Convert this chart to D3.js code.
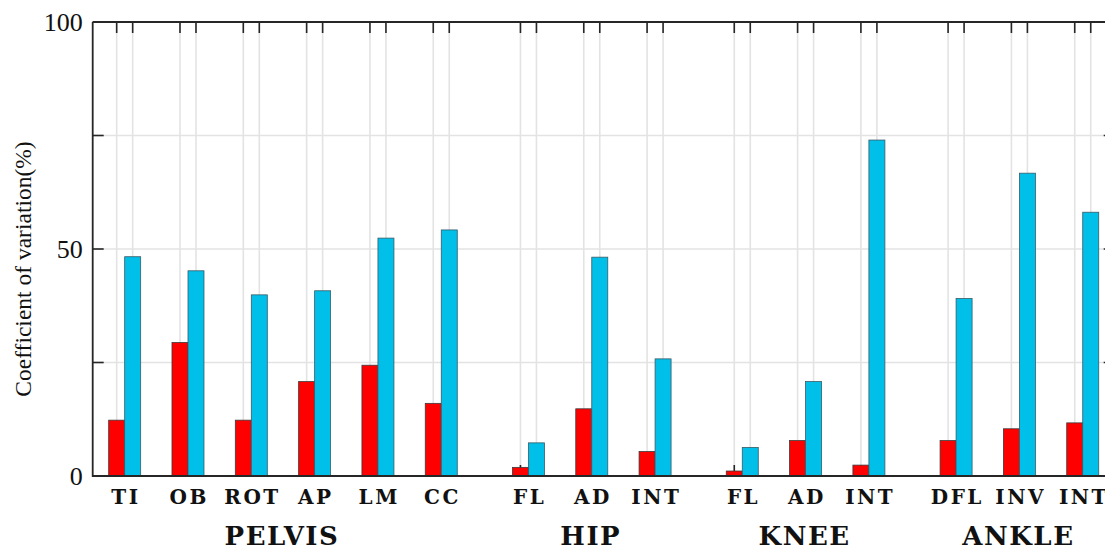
<!DOCTYPE html>
<html>
<head>
<meta charset="utf-8">
<script src="https://cdn.jsdelivr.net/npm/d3@7"></script>
<style>
  html, body { margin: 0; padding: 0; background: #fff; overflow: hidden; }
  svg { display: block; }
  .rm { font-family: "Liberation Serif", "Times New Roman", Times, "DejaVu Serif", serif; }
  .bf { font-family: "DejaVu Serif", serif; font-weight: bold; }
</style>
</head>
<body>
<svg id="chart" width="1105" height="550"></svg>
<script>
// ---- data ----
const groups = ["PELVIS", "HIP", "KNEE", "ANKLE"];
const categories = ["TI", "OB", "ROT", "AP", "LM", "CC", "FL", "AD", "INT", "FL", "AD", "INT", "DFL", "INV", "INT"];
const categoryGroup = ["PELVIS", "PELVIS", "PELVIS", "PELVIS", "PELVIS", "PELVIS", "HIP", "HIP", "HIP", "KNEE", "KNEE", "KNEE", "ANKLE", "ANKLE", "ANKLE"];
const redValues = [12.3, 29.4, 12.3, 20.8, 24.4, 16.0, 1.9, 14.8, 5.4, 1.1, 7.8, 2.4, 7.8, 10.4, 11.7];
const blueValues = [48.3, 45.2, 39.9, 40.8, 52.4, 54.2, 7.3, 48.2, 25.8, 6.3, 20.8, 74.0, 39.1, 66.7, 58.1];
const yTicks = [0, 25, 50, 75, 100];
const yTickLabels = ["0", "", "50", "", "100"];
const yLabel = "Coefficient of variation(%)";

// ---- layout ----
const groupGap = 0.377;      // extra spacing between groups (in category units)
const barW = 0.2527;         // bar width in category units
const pos = categories.map((c, i) => i + groups.indexOf(categoryGroup[i]) * groupGap);
const sideMargin = 0.505;

const pLeft = 92.7, pRight = 1114.7, pTop = 22, pBottom = 476;
const x = d3.scaleLinear().domain([d3.min(pos) - sideMargin, d3.max(pos) + sideMargin]).range([pLeft, pRight]);
const y = d3.scaleLinear().domain([0, 100]).range([pBottom, pTop]);

const svg = d3.select("#chart");
const axisColor = "#262626";
const gridColor = "#e3e3e3";
const redColor = "#ff0000";
const blueColor = "#00bfe9";

// bar centers (tick/grid positions)
const tickX = [];
pos.forEach(p => { tickX.push(p - barW / 2); tickX.push(p + barW / 2); });

// grid
const grid = svg.append("g");
grid.selectAll("line.v").data(tickX).join("line")
  .attr("x1", d => x(d)).attr("x2", d => x(d))
  .attr("y1", pTop).attr("y2", pBottom)
  .attr("stroke", gridColor).attr("stroke-width", 1.6);
grid.selectAll("line.h").data(yTicks.filter(t => t > 0 && t < 100)).join("line")
  .attr("x1", pLeft).attr("x2", pRight)
  .attr("y1", d => y(d)).attr("y2", d => y(d))
  .attr("stroke", gridColor).attr("stroke-width", 1.6);

// ticks (drawn below bars)
const ax = svg.append("g");
const tickLen = 11;
ax.selectAll("line.bt").data(tickX).join("line")
  .attr("x1", d => x(d)).attr("x2", d => x(d))
  .attr("y1", pBottom).attr("y2", pBottom - tickLen)
  .attr("stroke", axisColor).attr("stroke-width", 1.6);
ax.selectAll("line.tt").data(tickX).join("line")
  .attr("x1", d => x(d)).attr("x2", d => x(d))
  .attr("y1", pTop).attr("y2", pTop + tickLen)
  .attr("stroke", axisColor).attr("stroke-width", 1.6);
ax.selectAll("line.lt").data(yTicks).join("line")
  .attr("x1", pLeft).attr("x2", pLeft + tickLen)
  .attr("y1", d => y(d)).attr("y2", d => y(d))
  .attr("stroke", axisColor).attr("stroke-width", 1.6);
ax.selectAll("line.rt").data(yTicks).join("line")
  .attr("x1", pRight).attr("x2", pRight - tickLen)
  .attr("y1", d => y(d)).attr("y2", d => y(d))
  .attr("stroke", axisColor).attr("stroke-width", 1.6);

// bars
const bars = svg.append("g");
bars.selectAll("rect.red").data(redValues).join("rect")
  .attr("x", (d, i) => x(pos[i] - barW))
  .attr("width", (d, i) => x(pos[i]) - x(pos[i] - barW))
  .attr("y", d => y(d))
  .attr("height", d => y(0) - y(d))
  .attr("fill", redColor).attr("stroke", "#3a3a3a").attr("stroke-width", 0.8);
bars.selectAll("rect.blue").data(blueValues).join("rect")
  .attr("x", (d, i) => x(pos[i]))
  .attr("width", (d, i) => x(pos[i] + barW) - x(pos[i]))
  .attr("y", d => y(d))
  .attr("height", d => y(0) - y(d))
  .attr("fill", blueColor).attr("stroke", "#3a5a66").attr("stroke-width", 0.8);

// box lines
svg.append("path")
  .attr("d", `M${pLeft},${pTop} L${pLeft},${pBottom} L${pRight},${pBottom} M${pLeft},${pTop} L${pRight},${pTop} L${pRight},${pBottom}`)
  .attr("fill", "none").attr("stroke", axisColor).attr("stroke-width", 1.8);

// y tick labels
svg.append("g").selectAll("text").data(yTicks).join("text")
  .attr("class", "rm")
  .attr("x", pLeft - 10).attr("y", d => y(d) + 8.5)
  .attr("text-anchor", "end")
  .attr("font-size", 26).attr("fill", "#111")
  .text((d, i) => yTickLabels[i]);

// y label
svg.append("text")
  .attr("class", "rm")
  .attr("transform", `translate(31,${(pTop + pBottom) / 2 + 20}) rotate(-90)`)
  .attr("text-anchor", "middle")
  .attr("font-size", 23.5).attr("fill", "#111")
  .text(yLabel);

// category labels
const catSpacing = 2.5;
svg.append("g").selectAll("text").data(categories).join("text")
  .attr("class", "bf")
  .attr("x", (d, i) => x(pos[i]) + catSpacing / 2)
  .attr("y", 504)
  .attr("text-anchor", "middle")
  .attr("letter-spacing", catSpacing)
  .attr("font-size", 20).attr("fill", "#111")
  .text(d => d);

// group labels
const grpSpacing = 1.5;
svg.append("g").selectAll("text").data(groups).join("text")
  .attr("class", "bf")
  .attr("x", g => x(d3.mean(pos.filter((p, i) => categoryGroup[i] === g))) - 1)
  .attr("y", 545)
  .attr("text-anchor", "middle")
  .attr("letter-spacing", grpSpacing)
  .attr("font-size", 26).attr("fill", "#111")
  .text(g => g);
</script>
</body>
</html>
